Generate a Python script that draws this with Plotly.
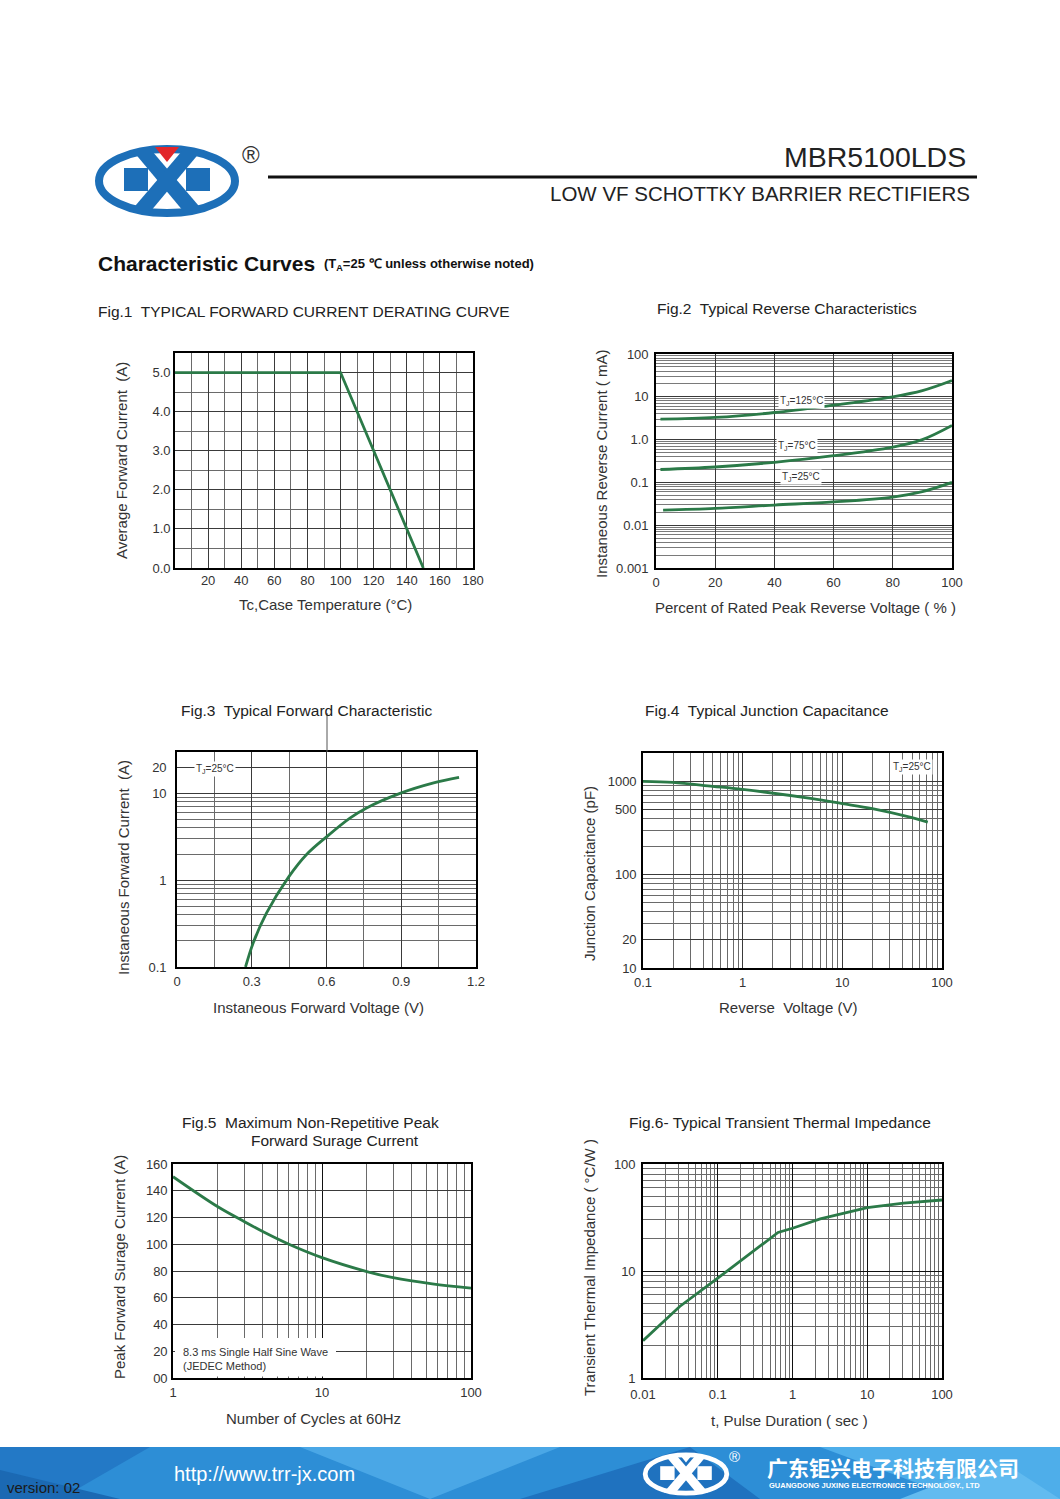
import plotly.graph_objects as go

W, H = 1060, 1499
FONT = "Liberation Sans, Arial, sans-serif"
GREEN = "#2b7a48"
TXT = "#333333"

# ---------------- data ----------------
# Fig.1 derating
f1_temp = [0, 100, 150]
f1_current = [5.0, 5.0, 0.0]
f1_xticks = [20, 40, 60, 80, 100, 120, 140, 160, 180]
f1_yticks = [0, 1, 2, 3, 4, 5]
f1_ytext = ["0.0", "1.0", "2.0", "3.0", "4.0", "5.0"]

# Fig.2 reverse characteristics
f2_pct125 = [1.5, 20, 40, 60, 80, 90, 100]
f2_i125 = [3.0, 3.3, 4.3, 6.4, 10.0, 13.9, 23.9]
f2_pct75 = [1.5, 20, 40, 60, 80, 90, 100]
f2_i75 = [0.20, 0.229, 0.295, 0.42, 0.67, 1.0, 2.14]
f2_pct25 = [2.4, 20, 40, 60, 80, 90, 100]
f2_i25 = [0.0224, 0.0247, 0.0295, 0.035, 0.0455, 0.061, 0.1]
f2_xticks = [0, 20, 40, 60, 80, 100]
f2_yticks = [0.001, 0.01, 0.1, 1, 10, 100]
f2_ytext = ["0.001", "0.01", "0.1", "1.0", "10", "100"]

# Fig.3 forward characteristic
f3_v = [0.275, 0.305, 0.359, 0.449, 0.52, 0.60, 0.694, 0.761, 0.895, 1.03, 1.132]
f3_i = [0.1, 0.187, 0.417, 1.1, 1.98, 3.16, 5.2, 6.8, 10.0, 13.2, 15.3]
f3_xticks = [0, 0.3, 0.6, 0.9, 1.2]
f3_xtext = ["0", "0.3", "0.6", "0.9", "1.2"]
f3_yticks = [0.1, 1, 10, 20]
f3_ytext = ["0.1", "1", "10", "20"]

# Fig.4 junction capacitance
f4_v = [0.1, 0.2, 0.5, 1, 5, 10, 20, 50, 72]
f4_c = [1000, 975, 885, 820, 652, 577, 509, 408, 366]
f4_xticks = [0.1, 1, 10, 100]
f4_xtext = ["0.1", "1", "10", "100"]
f4_yticks = [10, 20, 100, 500, 1000]
f4_ytext = ["10", "20", "100", "500", "1000"]

# Fig.5 surge current
f5_n = [1, 2, 3, 4, 6, 10, 20, 30, 55, 100]
f5_i = [150.5, 128, 117, 109.5, 100, 90, 79.6, 75, 70.4, 67.2]
f5_xticks = [1, 10, 100]
f5_xtext = ["1", "10", "100"]
f5_yticks = [0, 20, 40, 60, 80, 100, 120, 140, 160]
f5_ytext = ["00", "20", "40", "60", "80", "100", "120", "140", "160"]

# Fig.6 transient thermal impedance
f6_t = [0.01, 0.031, 0.1, 0.297, 0.64, 1, 2.35, 10, 30.6, 100]
f6_z = [2.23, 4.66, 8.57, 15.2, 22.9, 25.1, 30.7, 39.1, 43.0, 46.1]
f6_xticks = [0.01, 0.1, 1, 10, 100]
f6_xtext = ["0.01", "0.1", "1", "10", "100"]
f6_yticks = [1, 10, 100]
f6_ytext = ["1", "10", "100"]


def fx(x):
    return x / W


def fy(y):
    return 1 - y / H


def log_minors(e0, e1):
    return [m * 10 ** e for e in range(e0, e1) for m in range(2, 10)]


fig = go.Figure()

MAJ = "#3a3a3a"
MIN = "#6a6a6a"


def axis(dom_px, kind, rng, tickvals, ticktext, minor_vals=None, minor_dtick=None,
         anchor=None, horizontal=True, majcol=MAJ, mincol=MIN, standoff=0):
    if horizontal:
        dom = [fx(dom_px[0]), fx(dom_px[1])]
    else:
        dom = [fy(dom_px[1]), fy(dom_px[0])]
    d = dict(domain=dom, type=kind, range=rng, tickvals=tickvals, ticktext=ticktext,
             showgrid=True, gridcolor=majcol, gridwidth=1, zeroline=False,
             showline=True, linecolor="black", linewidth=1.6, mirror=True,
             ticks="", tickfont=dict(family=FONT, size=13, color=TXT),
             anchor=anchor, fixedrange=True, automargin=False, ticklabelstandoff=standoff)
    mn = dict(showgrid=True, gridcolor=mincol, gridwidth=0.9, ticks="")
    if minor_vals is not None:
        mn["tickvals"] = minor_vals
        d["minor"] = mn
    elif minor_dtick is not None:
        mn["dtick"] = minor_dtick
        d["minor"] = mn
    return d


lay = {}
# Fig1
lay["xaxis"] = axis([175, 473], "linear", [0, 180], f1_xticks, [str(v) for v in f1_xticks],
                    minor_dtick=10, anchor="y")
lay["yaxis"] = axis([353, 568], "linear", [0, 5.5], f1_yticks, f1_ytext, minor_dtick=0.5,
                    anchor="x", horizontal=False)
# Fig2
lay["xaxis2"] = axis([656, 952], "linear", [0, 100], f2_xticks, [str(v) for v in f2_xticks],
                     anchor="y2", standoff=2)
lay["yaxis2"] = axis([354, 568], "log", [-3, 2], f2_yticks, f2_ytext,
                     minor_vals=log_minors(-3, 2), anchor="x2", horizontal=False, mincol="#7a7a7a",
                     standoff=3)
# Fig3
lay["xaxis3"] = axis([177, 476], "linear", [0, 1.2], f3_xticks, f3_xtext, minor_dtick=0.15,
                     anchor="y3", standoff=2)
lay["yaxis3"] = axis([752, 967], "log", [-1, 1.477], f3_yticks, f3_ytext,
                     minor_vals=[v for v in log_minors(-1, 1) if v != 20] + [30],
                     anchor="x3", horizontal=False, standoff=6)
# Fig4
lay["xaxis4"] = axis([643, 942], "log", [-1, 2], f4_xticks, f4_xtext,
                     minor_vals=log_minors(-1, 2), anchor="y4", standoff=2)
lay["yaxis4"] = axis([753, 968], "log", [1, 3.304], f4_yticks, f4_ytext,
                     minor_vals=[v for v in log_minors(1, 4) if v not in (20, 500)],
                     anchor="x4", horizontal=False, standoff=2)
# Fig5
lay["xaxis5"] = axis([173, 471], "log", [0, 2], f5_xticks, f5_xtext,
                     minor_vals=log_minors(0, 2), anchor="y5", majcol="#111111", standoff=2)
lay["yaxis5"] = axis([1164, 1378], "linear", [0, 160], f5_yticks, f5_ytext,
                     anchor="x5", horizontal=False, standoff=1)
# Fig6
lay["xaxis6"] = axis([643, 942], "log", [-2, 2], f6_xticks, f6_xtext,
                     minor_vals=log_minors(-2, 2), anchor="y6", majcol="#111111", standoff=4)
lay["yaxis6"] = axis([1164, 1378], "log", [0, 2], f6_yticks, f6_ytext,
                     minor_vals=log_minors(0, 2), anchor="x6", horizontal=False, majcol="#111111",
                     standoff=3)

line = dict(color=GREEN, width=2.8)
fig.add_trace(go.Scatter(x=f1_temp, y=f1_current, mode="lines", line=line, xaxis="x", yaxis="y"))
for xs, ys in [(f2_pct125, f2_i125), (f2_pct75, f2_i75), (f2_pct25, f2_i25)]:
    fig.add_trace(go.Scatter(x=xs, y=ys, mode="lines", line=dict(color=GREEN, width=2.8, shape="spline"),
                             xaxis="x2", yaxis="y2"))
fig.add_trace(go.Scatter(x=f3_v, y=f3_i, mode="lines", line=dict(color=GREEN, width=2.8, shape="spline"),
                         xaxis="x3", yaxis="y3"))
fig.add_trace(go.Scatter(x=f4_v, y=f4_c, mode="lines", line=dict(color=GREEN, width=2.8, shape="spline"),
                         xaxis="x4", yaxis="y4"))
fig.add_trace(go.Scatter(x=f5_n, y=f5_i, mode="lines", line=dict(color=GREEN, width=2.8, shape="spline"),
                         xaxis="x5", yaxis="y5"))
fig.add_trace(go.Scatter(x=f6_t, y=f6_z, mode="lines", line=line, xaxis="x6", yaxis="y6"))

shapes = []
ann = []


def text(x, y, s, size=15, xanchor="left", yanchor="middle", color="#222222", angle=0,
         bold=False, bg=None, family=FONT):
    if bold:
        s = "<b>" + s + "</b>"
    a = dict(x=fx(x), y=fy(y), xref="paper", yref="paper", text=s, showarrow=False,
             xanchor=xanchor, yanchor=yanchor, textangle=angle,
             font=dict(family=family, size=size, color=color), borderpad=1)
    if bg:
        a["bgcolor"] = bg
    ann.append(a)


def rect(x0, y0, x1, y1, fill, layer="above"):
    shapes.append(dict(type="rect", xref="paper", yref="paper", x0=fx(x0), x1=fx(x1),
                       y0=fy(y1), y1=fy(y0), fillcolor=fill, line=dict(width=0), layer=layer))


def poly(pts, fill, layer="above"):
    p = "M " + " L ".join(f"{fx(a):.5f} {fy(b):.5f}" for a, b in pts) + " Z"
    shapes.append(dict(type="path", xref="paper", yref="paper", path=p, fillcolor=fill,
                       line=dict(width=0), layer=layer))


def seg(x0, y0, x1, y1, color, width):
    shapes.append(dict(type="line", xref="paper", yref="paper", x0=fx(x0), y0=fy(y0),
                       x1=fx(x1), y1=fy(y1), line=dict(color=color, width=width), layer="above"))


# ---------------- footer background ----------------
rect(0, 1447, 1060, 1499, "#2d8ed6")
poly([(0, 1447), (150, 1447), (60, 1499), (0, 1499)], "#2379c6")
poly([(0, 1470), (120, 1499), (0, 1499)], "#1b69b3")
poly([(300, 1447), (560, 1447), (430, 1499)], "#4aa7e6")
poly([(520, 1499), (690, 1447), (760, 1499)], "#1f72bf")
poly([(820, 1447), (1060, 1447), (1060, 1499), (960, 1499)], "#4eaeea")
poly([(900, 1499), (1000, 1460), (1060, 1499)], "#62bbf0")


# ---------------- logos ----------------
def logo(cx, cy, s, col, red):
    def T(x, y):
        return (cx + (x - 167) * s, cy + (y - 181) * s)
    x0, y0 = T(99, 149)
    x1, y1 = T(235, 213)
    shapes.append(dict(type="circle", xref="paper", yref="paper", x0=fx(x0), x1=fx(x1),
                       y0=fy(y1), y1=fy(y0), line=dict(color=col, width=8 * s),
                       fillcolor="rgba(0,0,0,0)", layer="above"))
    poly([T(133, 151), T(152, 151), T(204, 212), T(184, 212)], col)
    poly([T(182, 151), T(201, 151), T(150, 212), T(130, 212)], col)
    poly([T(124, 168), T(148, 168), T(148, 191), T(124, 191)], col)
    poly([T(186, 168), T(210, 168), T(210, 191), T(186, 191)], col)
    poly([T(155, 147), T(179, 147), T(167, 162)], red)


logo(167, 181, 1.0, "#1d6fb8", "#e2272b")
logo(686, 1474, 0.6, "#ffffff", "#ffffff")

# ---------------- header ----------------
text(251, 154, "®", size=24, xanchor="center", color="#333333")
text(968, 157, "MBR5100LDS", size=28.5, xanchor="right", color="#222222")
seg(268, 177, 977, 177, "#111111", 3.2)
text(972, 194, "LOW VF SCHOTTKY BARRIER RECTIFIERS", size=20.5, xanchor="right", color="#222222")
text(96, 263, "Characteristic Curves", size=21, bold=True, color="#111111")
text(322, 265, "(T<sub>A</sub>=25 ℃ unless otherwise noted)", size=13, bold=True, color="#111111")

# ---------------- fig titles ----------------
text(96, 311, "Fig.1  TYPICAL FORWARD CURRENT DERATING CURVE", size=15.5)
text(655, 308, "Fig.2  Typical Reverse Characteristics", size=15.5)
text(179, 710, "Fig.3  Typical Forward Characteristic", size=15.5)
text(643, 711, "Fig.4  Typical Junction Capacitance", size=15.5)
text(180, 1122, "Fig.5  Maximum Non-Repetitive Peak", size=15.5)
text(335, 1140, "Forward Surage Current", size=15.5, xanchor="center")
text(627, 1122, "Fig.6- Typical Transient Thermal Impedance", size=15.5)

# ---------------- axis titles ----------------
text(121, 461, "Average Forward Current  (A)", size=15, xanchor="center", angle=-90, color=TXT)
text(325, 605, "Tc,Case Temperature (°C)", size=15, xanchor="center", color=TXT)
text(601, 464, "Instaneous Reverse Current ( mA)", size=15, xanchor="center", angle=-90, color=TXT)
text(805, 607, "Percent of Rated Peak Reverse Voltage ( % )", size=15, xanchor="center", color=TXT)
text(123, 868, "Instaneous Forward Current  (A)", size=15, xanchor="center", angle=-90, color=TXT)
text(318, 1007, "Instaneous Forward Voltage (V)", size=15, xanchor="center", color=TXT)
text(589, 874, "Junction Capacitance (pF)", size=15, xanchor="center", angle=-90, color=TXT)
text(788, 1007, "Reverse  Voltage (V)", size=15, xanchor="center", color=TXT)
text(119, 1267, "Peak Forward Surage Current (A)", size=15, xanchor="center", angle=-90, color=TXT)
text(313, 1418, "Number of Cycles at 60Hz", size=15, xanchor="center", color=TXT)
text(589, 1268, "Transient Thermal Impedance ( °C/W )", size=15, xanchor="center", angle=-90, color=TXT)
text(790, 1420, "t, Pulse Duration ( sec )", size=15, xanchor="center", color=TXT)

# ---------------- in-plot labels ----------------
text(801, 401, "T<sub>J</sub>=125°C", size=10, xanchor="center", color=TXT, bg="white")
text(797, 446, "T<sub>J</sub>=75°C", size=10, xanchor="center", color=TXT, bg="white")
text(801, 477, "T<sub>J</sub>=25°C", size=10, xanchor="center", color=TXT, bg="white")
text(215, 769, "T<sub>J</sub>=25°C", size=10, xanchor="center", color=TXT, bg="white")
text(912, 767, "T<sub>J</sub>=25°C", size=10, xanchor="center", color=TXT, bg="white")
seg(327, 713, 327, 752, "#555555", 1)

rect(175, 1338, 336, 1376.5, "white")
text(181, 1352, "8.3 ms Single Half Sine Wave", size=11, color=TXT)
text(181, 1366, "(JEDEC Method)", size=11, color=TXT)

# ---------------- footer text ----------------
text(5, 1487, "version: 02", size=15, color="#1a1a1a")
text(172, 1474, "http://www.trr-jx.com", size=20, color="white")
text(734, 1456, "®", size=15, xanchor="center", color="white")
text(765, 1467, "广东钜兴电子科技有限公司", size=21, bold=True, color="white",
     family="Noto Sans CJK SC")
text(767, 1485, "GUANGDONG JUXING ELECTRONICE TECHNOLOGY., LTD", size=7.5, bold=True, color="white")

fig.update_layout(width=W, height=H, margin=dict(l=0, r=0, t=0, b=0, autoexpand=False),
                  paper_bgcolor="white", plot_bgcolor="white", showlegend=False,
                  shapes=shapes, annotations=ann, **lay)

fig.write_html("out.html", config={"displayModeBar": False},
               post_script="document.body.style.margin='0';document.body.style.padding='0';"
                           "document.body.style.overflow='hidden';")
